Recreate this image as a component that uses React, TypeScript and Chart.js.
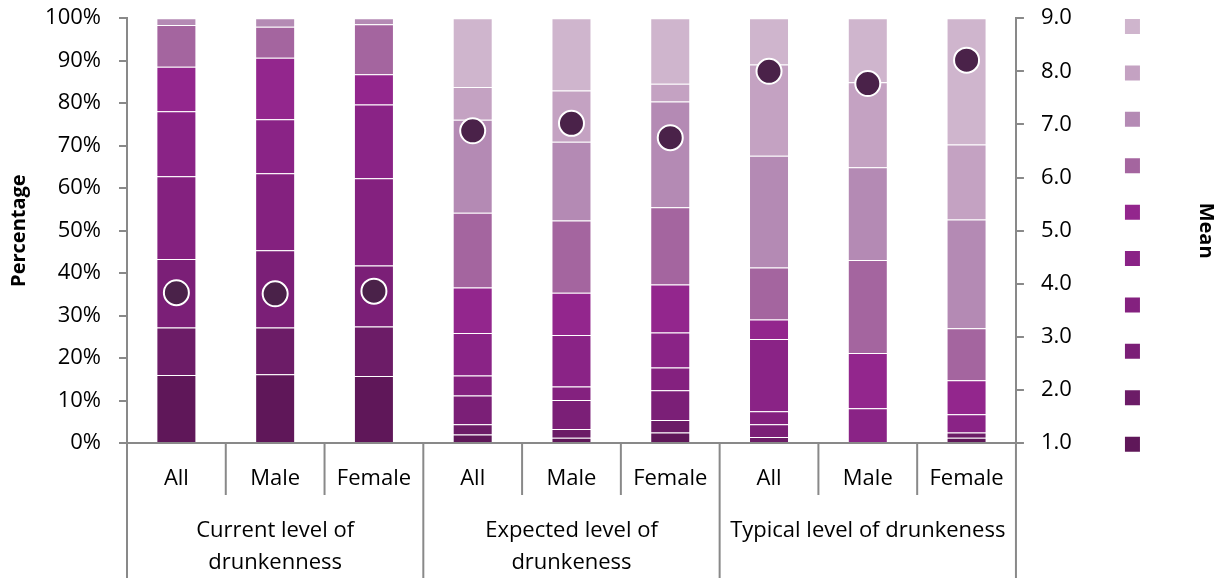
import React, { useEffect, useRef } from "react";
import { Chart, registerables } from "chart.js";

Chart.register(...registerables);

const categories = ["All", "Male", "Female", "All", "Male", "Female", "All", "Male", "Female"];
const groupLabels = [["Current level of", "drunkenness"], ["Expected level of", "drunkeness"], ["Typical level of drunkeness"]];
const groupSize = 3;

const levelNames = ["1", "2", "3", "4", "5", "6", "7", "8", "9", "10"];
const level1 = [16.0, 16.2, 15.8, 2.0, 1.25, 2.5, 0, 0, 1.25];
const level2 = [11.2, 11.0, 11.6, 2.4, 2.05, 2.9, 1.4, 0, 1.25];
const level3 = [16.1, 18.2, 14.4, 6.8, 6.8, 7.0, 3.0, 0, 0];
const level4 = [19.5, 18.1, 20.5, 4.7, 3.2, 5.4, 3.1, 0, 0];
const level5 = [15.3, 12.7, 17.4, 10.0, 12.1, 8.2, 17.0, 8.2, 4.25];
const level6 = [10.5, 14.5, 7.1, 10.7, 10.0, 11.3, 4.6, 13.0, 8.0];
const level7 = [9.8, 7.3, 11.8, 17.6, 17.0, 18.2, 12.2, 21.9, 12.25];
const level8 = [1.6, 2.0, 1.4, 21.9, 18.5, 24.9, 26.3, 21.8, 25.6];
const level9 = [0, 0, 0, 7.7, 12.1, 4.2, 21.5, 20.0, 17.7];
const level10 = [0, 0, 0, 16.2, 17.0, 15.4, 10.9, 15.1, 29.7];
const levels = [level1, level2, level3, level4, level5, level6, level7, level8, level9, level10];
const levelColors = ["#5F1759", "#6C1C67", "#7B1F77", "#84217F", "#8A2386", "#93268D", "#A4659F", "#B48AB4", "#C4A2C2", "#CFB5CD"];

const means = [3.83, 3.81, 3.86, 6.88, 7.02, 6.75, 8.0, 7.77, 8.21];

const percentTicks = { min: 0, max: 100, step: 10 };
const meanTicks = { min: 1, max: 9, step: 1 };

const FONT = "'Open Sans', sans-serif";
const AXIS_GRAY = "#898989";

const xLabelsPlugin = {
  id: "xLabels",
  afterDraw(chart: any) {
    const ctx = chart.ctx;
    const xs = chart.scales.x;
    const area = chart.chartArea;
    const top = area.bottom;
    const n = categories.length;
    const centers = categories.map((_, i) => xs.getPixelForValue(i));
    const bounds: number[] = [area.left];
    for (let i = 1; i < n; i++) bounds.push((centers[i - 1] + centers[i]) / 2);
    bounds.push(area.right);
    ctx.save();
    ctx.strokeStyle = AXIS_GRAY;
    ctx.lineWidth = 2;
    bounds.forEach((b, i) => {
      const long = i % groupSize === 0;
      ctx.beginPath();
      ctx.moveTo(b, top);
      ctx.lineTo(b, top + (long ? 135 : 52));
      ctx.stroke();
    });
    ctx.fillStyle = "#000";
    ctx.font = `22px ${FONT}`;
    ctx.textAlign = "center";
    ctx.textBaseline = "alphabetic";
    categories.forEach((c, i) => ctx.fillText(c, centers[i], top + 42));
    groupLabels.forEach((lines, g) => {
      const cx = (bounds[g * groupSize] + bounds[(g + 1) * groupSize]) / 2;
      lines.forEach((t, k) => ctx.fillText(t, cx, top + 94 + k * 32));
    });
    ctx.restore();
  },
};

export default function App() {
  const ref = useRef<HTMLCanvasElement>(null);
  useEffect(() => {
    if (!ref.current) return;
    const barSets = levels.map((vals, i) => ({
      type: "bar" as const,
      label: levelNames[i],
      data: vals,
      backgroundColor: levelColors[i],
      borderColor: "rgba(255,255,255,0.2)",
      borderWidth: 1,
      stack: "s",
      order: 1,
      yAxisID: "y",
      barPercentage: 0.405,
      categoryPercentage: 1,
    }));
    const chart = new Chart(ref.current, {
      type: "bar",
      data: {
        labels: categories,
        datasets: [
          ...barSets,
          {
            type: "line" as const,
            label: "Mean",
            data: means,
            yAxisID: "y1",
            showLine: false,
            pointRadius: 12.5,
            pointHoverRadius: 12.5,
            pointBackgroundColor: "#4A2249",
            pointBorderColor: "#ffffff",
            pointBorderWidth: 2,
            order: 0,
          } as any,
        ],
      },
      options: {
        animation: false,
        responsive: true,
        maintainAspectRatio: false,
        layout: { padding: 0 },
        plugins: {
          tooltip: { enabled: false },
          legend: {
            position: "right",
            align: "start",
            reverse: true,
            labels: {
              boxWidth: 15,
              boxHeight: 15,
              padding: 6.7,
              font: { family: FONT, size: 39.7 },
              filter: (item: any) => item.datasetIndex < levels.length,
              generateLabels: (ch: any) =>
                Chart.defaults.plugins.legend.labels.generateLabels(ch).map((l: any) => ({ ...l, text: "", lineWidth: 0 })),
            },
          },
        },
        scales: {
          x: {
            type: "category",
            stacked: true,
            ticks: { display: false },
            grid: { display: false },
            border: { display: true, color: AXIS_GRAY, width: 2 },
            afterFit: (s: any) => {
              s.height = 138;
            },
          },
          y: {
            type: "linear",
            position: "left",
            stacked: true,
            min: percentTicks.min,
            max: percentTicks.max,
            ticks: {
              stepSize: percentTicks.step,
              autoSkip: false,
              padding: 18,
              color: "#000",
              font: { family: FONT, size: 22, lineHeight: 0.02 },
              callback: (v: any) => `${v}%`,
            },
            grid: { drawOnChartArea: false, tickLength: 8, color: AXIS_GRAY, lineWidth: 2 },
            border: { color: AXIS_GRAY, width: 2 },
            title: {
              display: true,
              text: "Percentage",
              color: "#000",
              font: { family: FONT, size: 20, weight: "bold" },
              padding: { top: 7, bottom: 0 },
            },
            afterFit: (s: any) => {
              s.width = 127;
            },
          },
          y1: {
            type: "linear",
            position: "right",
            min: meanTicks.min,
            max: meanTicks.max,
            ticks: {
              stepSize: meanTicks.step,
              autoSkip: false,
              padding: 17,
              color: "#000",
              font: { family: FONT, size: 22, lineHeight: 0.02 },
              callback: (v: any) => Number(v).toFixed(1),
            },
            grid: { drawOnChartArea: false, tickLength: 8, color: AXIS_GRAY, lineWidth: 2 },
            border: { color: AXIS_GRAY, width: 2 },
            afterFit: (s: any) => {
              s.width = 102.3;
            },
          },
          y2: {
            type: "linear",
            position: "right",
            weight: 2000,
            min: 0,
            max: 1,
            ticks: { display: false },
            grid: { display: false },
            border: { display: false },
            title: {
              display: true,
              text: "Mean",
              color: "#000",
              font: { family: FONT, size: 20, weight: "bold" },
              padding: { top: 4, bottom: 0 },
            },
            afterFit: (s: any) => {
              s.width = 52.2;
            },
          },
        },
      } as any,
      plugins: [xLabelsPlugin],
    });
    return () => chart.destroy();
  }, []);
  return (
    <div style={{ position: "fixed", left: 0, top: 0, width: 1222, height: 581, background: "#fff" }}>
      <canvas ref={ref} />
    </div>
  );
}
